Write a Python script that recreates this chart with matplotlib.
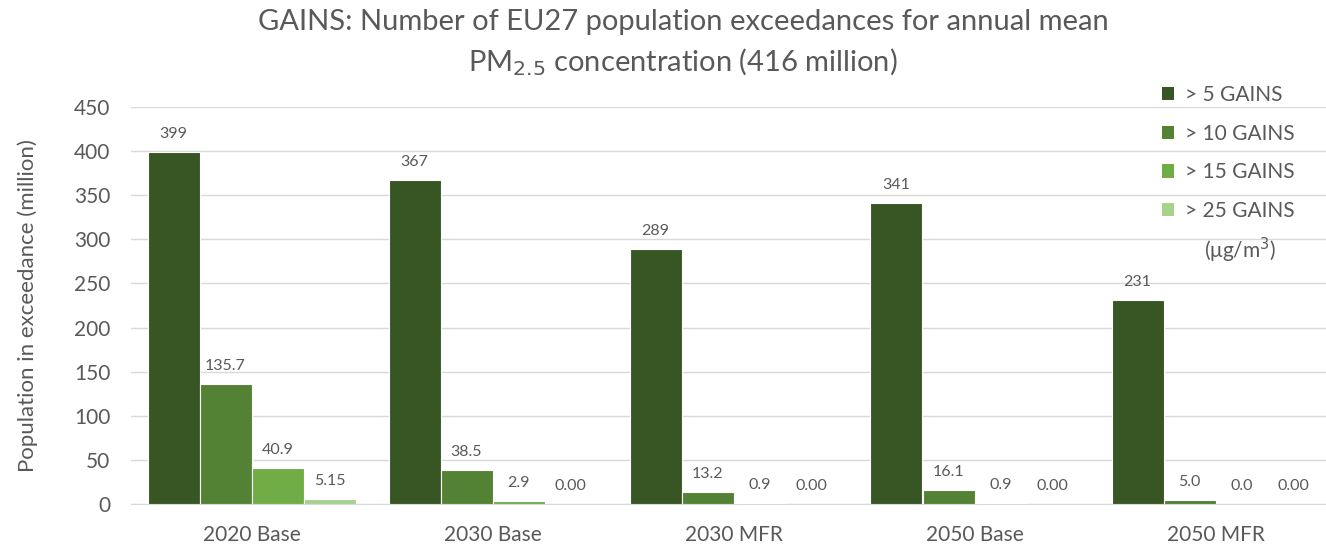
import numpy as np
import matplotlib
matplotlib.use("Agg")
import matplotlib.pyplot as plt
from matplotlib.patches import Patch

plt.rcParams['font.family'] = ['Lato', 'DejaVu Sans']

# Data
scenarios = ['2020 Base', '2030 Base', '2030 MFR', '2050 Base', '2050 MFR']
series_names = ['> 5 GAINS', '> 10 GAINS', '> 15 GAINS', '> 25 GAINS']
gt5 = [399, 367, 289, 341, 231]
gt10 = [135.7, 38.5, 13.2, 16.1, 5.0]
gt15 = [40.9, 2.9, 0.9, 0.9, 0.0]
gt25 = [5.15, 0.00, 0.00, 0.00, 0.00]
label_formats = ['{:.0f}', '{:.1f}', '{:.1f}', '{:.2f}']
colors = ['#375623', '#548235', '#70AD47', '#A9D18E']

values = [gt5, gt10, gt15, gt25]
text_gray = '#595959'

fig = plt.figure(figsize=(13.26, 5.45), dpi=100)
W, H = 1326, 545
ax = fig.add_axes([131 / W, 41 / H, 1205 / W, 397 / H])

x = np.arange(len(scenarios))
bar_w = 208 / 241 / 4

for i, (vals, color, fmt) in enumerate(zip(values, colors, label_formats)):
    pos = x + (i - 1.5) * bar_w
    ax.bar(pos, vals, width=bar_w, color=color, edgecolor='white',
           linewidth=0.8, zorder=3)
    for px, v in zip(pos, vals):
        ax.annotate(fmt.format(v), (px, v), xytext=(0, 13),
                    textcoords='offset points', ha='center', va='center',
                    fontsize=11.5, color=text_gray)

ax.set_xlim(-0.5, len(scenarios) - 0.5)
ax.set_ylim(0, 450)
ax.set_yticks(np.arange(0, 451, 50))
ax.yaxis.grid(True, color='#D9D9D9', linewidth=1, zorder=0)
ax.set_axisbelow(True)
for s in ['top', 'right', 'left']:
    ax.spines[s].set_visible(False)
ax.spines['bottom'].set_color('#D9D9D9')
ax.tick_params(axis='y', length=0, pad=15, labelsize=15, labelcolor=text_gray)
ax.tick_params(axis='x', length=0, pad=15, labelsize=15, labelcolor=text_gray)
ax.set_xticks(x)
ax.set_xticklabels(scenarios)
ax.set_ylabel('Population in exceedance (million)', fontsize=16,
              color=text_gray, labelpad=26)

fig.text(683 / W, 1 - 22 / H,
         'GAINS: Number of EU27 population exceedances for annual mean',
         ha='center', va='center', fontsize=21, color=text_gray)
fig.text(683 / W, 1 - 62 / H,
         'PM$_{2.5}$ concentration (416 million)',
         ha='center', va='center', fontsize=21, color=text_gray)

handles = [Patch(facecolor=c, edgecolor='none') for c in colors]
ax.legend(handles, series_names, loc='upper left',
          bbox_to_anchor=(1143 / W, 1 - 66 / H), bbox_transform=fig.transFigure,
          frameon=False, fontsize=15, labelcolor=text_gray,
          handlelength=0.6, handleheight=0.6, handletextpad=0.5,
          labelspacing=0.9)
fig.text(1240 / W, 1 - 250 / H, '(μg/m$^3$)', ha='center', va='center',
         fontsize=15, color=text_gray)

fig.savefig('out.png', dpi=100)
